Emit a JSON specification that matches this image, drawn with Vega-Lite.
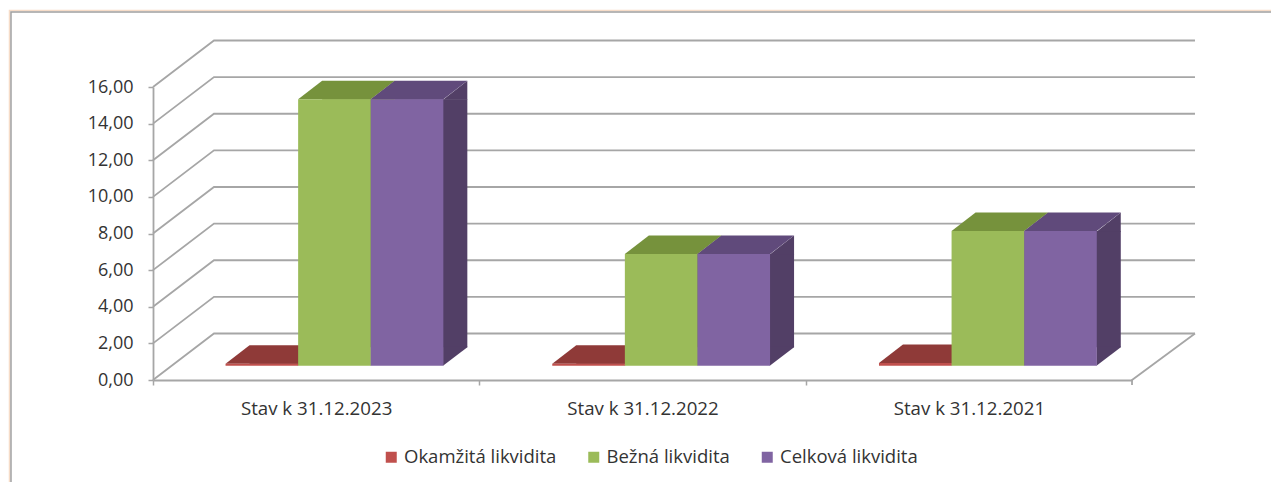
{
"$schema":"https://vega.github.io/schema/vega-lite/v6.json",
"width":979,"height":293,
"autosize":{"type":"none"},
"padding":{"left":153,"top":87,"right":139,"bottom":102},
"background":"white",
"config":{"view":{"stroke":null},"font":"Open Sans","axisY":{"labelOverlap":false,"tickCount":9,"title":null,"labelExpr":"replace(format(datum.value,'.2f'),'.',',')","domainColor":"#a6a6a6","domainWidth":1.8,"tickColor":"#a6a6a6","tickWidth":1.5,"tickSize":5,"labelFont":"Open Sans","labelFontSize":18,"labelColor":"#333333","labelPadding":15,"grid":false}},
"datasets":{
"bars":[
{"stav":"Stav k 31.12.2023","ukazatel":"Okamžitá likvidita","hodnota":0.1},
{"stav":"Stav k 31.12.2023","ukazatel":"Bežná likvidita","hodnota":14.55},
{"stav":"Stav k 31.12.2023","ukazatel":"Celková likvidita","hodnota":14.55},
{"stav":"Stav k 31.12.2022","ukazatel":"Okamžitá likvidita","hodnota":0.1},
{"stav":"Stav k 31.12.2022","ukazatel":"Bežná likvidita","hodnota":6.1},
{"stav":"Stav k 31.12.2022","ukazatel":"Celková likvidita","hodnota":6.1},
{"stav":"Stav k 31.12.2021","ukazatel":"Okamžitá likvidita","hodnota":0.15},
{"stav":"Stav k 31.12.2021","ukazatel":"Bežná likvidita","hodnota":7.35},
{"stav":"Stav k 31.12.2021","ukazatel":"Celková likvidita","hodnota":7.35}
],
"grid":[{"v":0},{"v":2},{"v":4},{"v":6},{"v":8},{"v":10},{"v":12},{"v":14},{"v":16}],
"frame":[{"v":16}],
"floor":[{"v":0}]
},
"layer":[
{
"layer":[
{"data":{"name":"bars"},
"mark":{"type":"bar","opacity":0},
"encoding":{
"x":{"field":"stav","type":"nominal","sort":null,"title":null,"scale":{"domain":["Stav k 31.12.2023","Stav k 31.12.2022","Stav k 31.12.2021"],"paddingInner":0.3325,"paddingOuter":0.166},"axis":{"tickBand":"center","tickOffset":-163.2,"labelOffset":163.2,"labelAngle":0,"domainColor":"#a6a6a6","domainWidth":1.8,"tickColor":"#a6a6a6","tickWidth":1.5,"tickSize":5,"labelFont":"Open Sans","labelFontSize":18.7,"labelColor":"#333333","labelPadding":14,"grid":false}},
"y":{"field":"hodnota","type":"quantitative","title":null,"scale":{"domain":[0,16],"nice":false},"axis":{"values":[0,2,4,6,8,10,12,14,16]}}
}},
{"data":{"name":"frame"},
"mark":{"type":"point","shape":"M-197.7,396V-76.5H1119","size":4,"filled":false,"opacity":1,"stroke":"#f6dcc8","strokeWidth":1.5},
"encoding":{"x":{"datum":"Stav k 31.12.2023","type":"nominal","bandPosition":0,"title":null},"y":{"field":"v","type":"quantitative","title":null}}},
{"data":{"name":"frame"},
"mark":{"type":"point","shape":"M-196.2,396V-75H1119","size":4,"filled":false,"opacity":1,"stroke":"#a0a0a0","strokeWidth":1.5},
"encoding":{"x":{"datum":"Stav k 31.12.2023","type":"nominal","bandPosition":0,"title":null},"y":{"field":"v","type":"quantitative","title":null}}},
{"data":{"name":"grid"},
"mark":{"type":"point","shape":"M-54.2,0L6.8,-46.5H987.8","size":4,"filled":false,"opacity":1,"stroke":"#a6a6a6","strokeWidth":1.8},
"encoding":{"x":{"datum":"Stav k 31.12.2023","type":"nominal","bandPosition":0,"title":null},"y":{"field":"v","type":"quantitative","title":null}}},
{"data":{"name":"floor"},
"mark":{"type":"point","shape":"M54.2,5V0L117.2,-46.5","size":4,"filled":false,"opacity":1,"stroke":"#a6a6a6","strokeWidth":1.8},
"encoding":{"x":{"datum":"Stav k 31.12.2021","type":"nominal","bandPosition":1,"title":null},"y":{"field":"v","type":"quantitative","title":null}}}
]
},
{
"data":{"name":"bars"},
"mark":{"type":"bar","yOffset":-14.3,"y2Offset":-32.8},
"encoding":{
"x":{"field":"stav","type":"nominal","axis":null,"scale":{"domain":["Stav k 31.12.2023","Stav k 31.12.2022","Stav k 31.12.2021"],"paddingInner":0.3325,"paddingOuter":0.166,"range":[42.3,1022.3]}},
"xOffset":{"field":"ukazatel","type":"nominal","scale":{"domain":["Okamžitá likvidita","Bežná likvidita","Celková likvidita"],"range":[0,217.8],"paddingInner":0,"paddingOuter":0}},
"y":{"field":"hodnota","type":"quantitative","title":null},
"y2":{"datum":0},
"color":{"field":"ukazatel","type":"nominal","legend":null,"scale":{"domain":["Okamžitá likvidita","Bežná likvidita","Celková likvidita"],"range":["#8f3a38","#76923c","#523f66"]}}
}
},
{
"data":{"name":"bars"},
"encoding":{
"x":{"field":"stav","type":"nominal","axis":null,"scale":{"domain":["Stav k 31.12.2023","Stav k 31.12.2022","Stav k 31.12.2021"],"paddingInner":0.3325,"paddingOuter":0.166,"range":[18.3,998.3]}},
"xOffset":{"field":"ukazatel","type":"nominal","scale":{"domain":["Okamžitá likvidita","Bežná likvidita","Celková likvidita"],"range":[0,217.8],"paddingInner":0,"paddingOuter":0}},
"y":{"field":"hodnota","type":"quantitative","title":null}
},
"resolve":{"scale":{"color":"independent"}},
"layer":[
{"mark":{"type":"point","shape":"M36,0.6L60.3,0.6L60.3,-18.5Z","size":4,"filled":true,"opacity":1,"strokeWidth":0,"yOffset":-14.3},
"encoding":{"color":{"field":"ukazatel","type":"nominal","legend":null,"scale":{"domain":["Okamžitá likvidita","Bežná likvidita","Celková likvidita"],"range":["#8f3a38","#76923c","#523f66"]}}}},
{"mark":{"type":"point","shape":"M36,0L36,-19.1L60.3,-19.1L60.3,-18.5Z","size":4,"filled":true,"opacity":1,"strokeWidth":0,"yOffset":-14.3},
"encoding":{"y":{"datum":0,"type":"quantitative","title":null},"color":{"field":"ukazatel","type":"nominal","legend":null,"scale":{"domain":["Okamžitá likvidita","Bežná likvidita","Celková likvidita"],"range":["#8f3a38","#76923c","#523f66"]}}}},
{"mark":{"type":"point","shape":"M-36.3,0L36.3,0L60.3,-18.5L-12.3,-18.5Z","size":4,"filled":true,"opacity":1,"strokeWidth":0,"yOffset":-14.3},
"encoding":{"color":{"field":"ukazatel","type":"nominal","legend":null,"scale":{"domain":["Okamžitá likvidita","Bežná likvidita","Celková likvidita"],"range":["#8f3a38","#76923c","#604a7b"]}}}},
{"mark":{"type":"bar","yOffset":-14.3,"y2Offset":-14.3},
"encoding":{
"y2":{"datum":0},
"color":{"field":"ukazatel","type":"nominal","title":null,"scale":{"domain":["Okamžitá likvidita","Bežná likvidita","Celková likvidita"],"range":["#c0504d","#9bbb59","#8064a2"]},
"legend":{"orient":"none","legendX":229,"legendY":361,"direction":"horizontal","columns":3,"symbolType":"square","symbolSize":121,"symbolStrokeWidth":0,"labelFont":"Open Sans","labelFontSize":18.5,"labelColor":"#333333","labelLimit":300,"labelOffset":3.5,"columnPadding":27.5,"gridAlign":"none","title":null}}
}}
]
}
],
"resolve":{"scale":{"x":"independent","xOffset":"independent","color":"independent"}}
}
